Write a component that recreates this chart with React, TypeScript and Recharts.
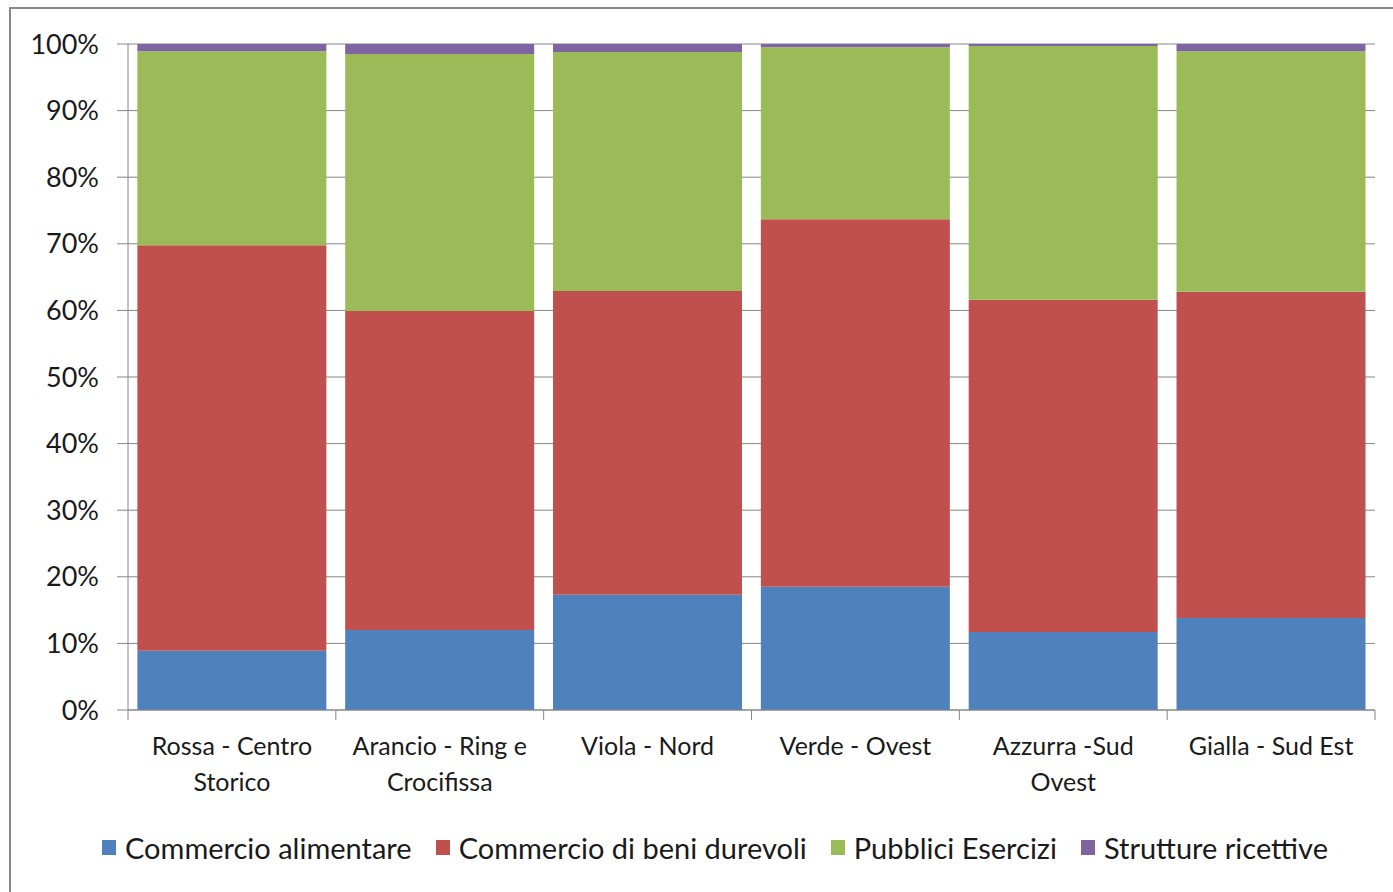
import { Bar, BarChart, CartesianGrid, XAxis, YAxis } from 'recharts'

const categories = [
  'Rossa - Centro|Storico',
  'Arancio - Ring e|Crocifissa',
  'Viola - Nord',
  'Verde - Ovest',
  'Azzurra -Sud|Ovest',
  'Gialla - Sud Est',
]
const alimentare = [8.9, 12.0, 17.3, 18.5, 11.7, 13.8]
const durevoli = [60.9, 47.9, 45.6, 55.2, 49.9, 49.0]
const esercizi = [29.1, 38.6, 35.9, 25.8, 38.1, 36.1]
const ricettive = [1.1, 1.5, 1.2, 0.5, 0.3, 1.1]
const yTicks = [0, 10, 20, 30, 40, 50, 60, 70, 80, 90, 100]

const SERIES = [
  { key: 'alimentare', label: 'Commercio alimentare', color: '#4F81BD' },
  { key: 'durevoli', label: 'Commercio di beni durevoli', color: '#C0504D' },
  { key: 'esercizi', label: 'Pubblici Esercizi', color: '#9BBB59' },
  { key: 'ricettive', label: 'Strutture ricettive', color: '#8064A2' },
]

const data = categories.map((name, i) => ({
  name,
  alimentare: alimentare[i],
  durevoli: durevoli[i],
  esercizi: esercizi[i],
  ricettive: ricettive[i],
}))

const FONT = 'Lato, "Open Sans", sans-serif'
const AXIS = '#868686'

function CategoryTick(props: any) {
  const { x, y, payload, index, width } = props
  const band = width / categories.length
  const lines = String(payload.value).split('|')
  return (
    <g>
      <line x1={x - band / 2} x2={x - band / 2} y1={y - 8} y2={y + 2} stroke={AXIS} />
      {index === categories.length - 1 ? (
        <line x1={x + band / 2} x2={x + band / 2} y1={y - 8} y2={y + 2} stroke={AXIS} />
      ) : null}
      <text x={x} y={y + 37} textAnchor="middle" fill="#1a1a1a" fontSize={25} fontFamily={FONT}>
        {lines.map((l, i) => (
          <tspan key={i} x={x} dy={i === 0 ? 0 : 36}>
            {l}
          </tspan>
        ))}
      </text>
    </g>
  )
}

export default function App() {
  return (
    <div style={{ position: 'absolute', left: 0, top: 0, width: 1393, height: 892, overflow: 'hidden', background: '#fff' }}>
      <div
        style={{
          position: 'absolute',
          left: 9,
          top: 7,
          width: 1400,
          height: 900,
          borderLeft: '2px solid #888',
          borderTop: '2px solid #888',
        }}
      />
      <div style={{ position: 'absolute', left: 0, top: 0 }}>
        <BarChart
          width={1393}
          height={892}
          data={data}
          margin={{ top: 44, right: 18, bottom: 0, left: 0 }}
          barCategoryGap="4.5%"
          stackOffset="expand"
        >
          <CartesianGrid stroke={AXIS} vertical={false} />
          <XAxis
            dataKey="name"
            height={182}
            tick={<CategoryTick />}
            tickLine={false}
            axisLine={{ stroke: AXIS }}
            interval={0}
          />
          <YAxis
            width={128}
            ticks={yTicks.map((t) => t / 100)}
            domain={[0, 1]}
            tickFormatter={(v: number) => `${Math.round(v * 100)}%`}
            tick={{ fill: '#1a1a1a', fontSize: 27, fontFamily: FONT }}
            tickSize={11}
            tickMargin={18}
            tickLine={{ stroke: AXIS }}
            axisLine={{ stroke: AXIS }}
          />
          {SERIES.map((s) => (
            <Bar key={s.key} dataKey={s.key} stackId="a" fill={s.color} isAnimationActive={false} />
          ))}
        </BarChart>
      </div>
      <div
        style={{
          position: 'absolute',
          top: 830,
          left: 0,
          width: 1430,
          display: 'flex',
          justifyContent: 'center',
          gap: 24,
          fontFamily: FONT,
          fontSize: 29,
          color: '#1a1a1a',
        }}
      >
        {SERIES.map((s) => (
          <span key={s.key} style={{ display: 'flex', alignItems: 'center' }}>
            <span style={{ width: 14, height: 15, background: s.color, marginRight: 9, display: 'inline-block' }} />
            {s.label}
          </span>
        ))}
      </div>
    </div>
  )
}
